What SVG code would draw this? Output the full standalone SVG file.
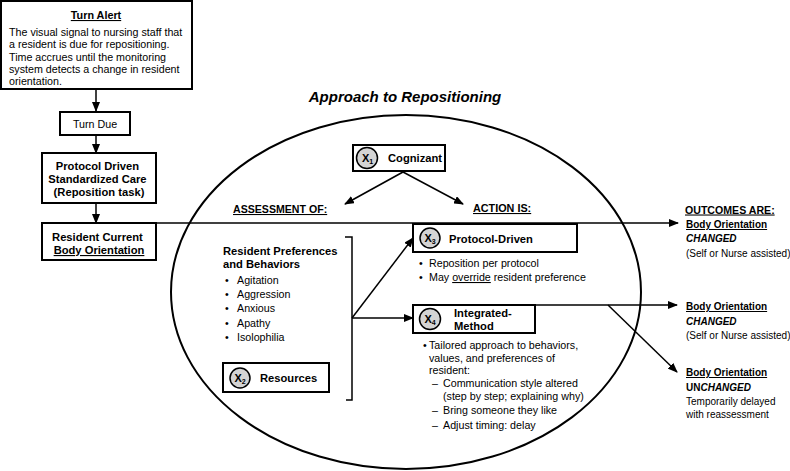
<svg xmlns="http://www.w3.org/2000/svg" width="790" height="471" viewBox="0 0 790 471">
<defs>
<marker id="ah" markerUnits="userSpaceOnUse" markerWidth="10" markerHeight="8" refX="9" refY="4" orient="auto">
<path d="M0,0 L10,4 L0,8 Z" fill="#000"/>
</marker>
<style>
text{font-family:"Liberation Sans",Arial,sans-serif;fill:#000}
.box{fill:#fff;stroke:#000;stroke-width:2}
.b{font-weight:bold}
.t{font-size:10.7px}
.tb{font-size:11.2px;font-weight:bold}
.o{font-size:10px}
.u{text-decoration:underline}
.con{stroke:#000;stroke-width:1.5;fill:none}
.badge{fill:#d4d4d4;stroke:#000;stroke-width:1.5}
.x{font-size:11px;font-weight:bold}
.sub{font-size:7px;font-weight:bold}
</style>
</defs>
<rect width="790" height="471" fill="#fff"/>

<text x="405" y="102" text-anchor="middle" font-size="15" font-weight="bold" font-style="italic">Approach to Repositioning</text>
<ellipse cx="406" cy="292" rx="235" ry="177" fill="none" stroke="#000" stroke-width="2"/>

<g id="connectors">
<line class="con" x1="96" y1="89" x2="96" y2="111" marker-end="url(#ah)"/>
<line class="con" x1="96" y1="135" x2="96" y2="153" marker-end="url(#ah)"/>
<line class="con" x1="96" y1="203" x2="96" y2="223" marker-end="url(#ah)"/>
<line class="con" x1="156" y1="223" x2="678" y2="223" marker-end="url(#ah)"/>
<line class="con" x1="403" y1="172" x2="345" y2="204" marker-end="url(#ah)"/>
<line class="con" x1="403" y1="172" x2="463" y2="204" marker-end="url(#ah)"/>
<path class="con" d="M345,237 H352 V400 H346"/>
<line class="con" x1="352" y1="318" x2="413" y2="238" marker-end="url(#ah)"/>
<line class="con" x1="352" y1="318" x2="413" y2="318" marker-end="url(#ah)"/>
<line class="con" x1="535" y1="305" x2="677" y2="305" marker-end="url(#ah)"/>
<line class="con" x1="608" y1="305" x2="677" y2="372" marker-end="url(#ah)"/>
</g>

<g id="turn-alert">
<rect class="box" x="1" y="1" width="191" height="88"/>
<text x="96" y="19" text-anchor="middle" class="b u" font-size="10.8">Turn Alert</text>
<text class="t" font-size="10.8">
<tspan x="9" y="36">The visual signal to nursing staff that</tspan>
<tspan x="9" y="48.3">a resident is due for repositioning.</tspan>
<tspan x="9" y="60.6">Time accrues until the monitoring</tspan>
<tspan x="9" y="72.9">system detects a change in resident</tspan>
<tspan x="9" y="85.2">orientation.</tspan>
</text>
</g>

<g id="turn-due">
<rect class="box" x="60" y="112" width="70" height="23"/>
<text x="95" y="127.5" text-anchor="middle" class="t">Turn Due</text>
</g>

<g id="protocol-driven-care">
<rect class="box" x="42" y="153" width="114" height="50"/>
<text class="tb" text-anchor="middle">
<tspan x="99" y="170">Protocol Driven</tspan>
<tspan x="99" y="183">Standardized Care</tspan>
<tspan x="99" y="196">(Reposition task)</tspan>
</text>
</g>

<g id="resident-current">
<rect class="box" x="42" y="223" width="114" height="37"/>
<text class="tb" text-anchor="middle">
<tspan x="99" y="241">Resident Current</tspan>
<tspan x="99" y="254" class="u">Body Orientation</tspan>
</text>
</g>

<g id="cognizant">
<rect class="box" x="353" y="145" width="92" height="26"/>
<circle class="badge" cx="367" cy="158" r="10.5"/>
<text x="362" y="162" class="x">X<tspan class="sub" dy="2">1</tspan></text>
<text x="388" y="162" class="tb">Cognizant</text>
</g>

<text x="233" y="213" class="u" font-weight="bold" font-size="10.6">ASSESSMENT OF:</text>
<text x="473" y="212" class="u" font-weight="bold" font-size="10.8">ACTION IS:</text>

<g id="resident-preferences">
<text class="tb">
<tspan x="223" y="255">Resident Preferences</tspan>
<tspan x="223" y="268">and Behaviors</tspan>
</text>
<text class="t">
<tspan x="225" y="284">•</tspan><tspan x="237" y="284">Agitation</tspan>
<tspan x="225" y="298.2">•</tspan><tspan x="237" y="298.2">Aggression</tspan>
<tspan x="225" y="312.4">•</tspan><tspan x="237" y="312.4">Anxious</tspan>
<tspan x="225" y="326.6">•</tspan><tspan x="237" y="326.6">Apathy</tspan>
<tspan x="225" y="340.8">•</tspan><tspan x="237" y="340.8">Isolophilia</tspan>
</text>
</g>

<g id="resources">
<rect class="box" x="223" y="363" width="106" height="29"/>
<circle class="badge" cx="240" cy="378" r="10"/>
<text x="234.5" y="382" class="x">X<tspan class="sub" dy="2">2</tspan></text>
<text x="260" y="382" class="tb">Resources</text>
</g>

<g id="protocol-driven">
<rect class="box" x="413" y="224" width="164" height="28"/>
<circle class="badge" cx="430" cy="238" r="10"/>
<text x="424.5" y="242" class="x">X<tspan class="sub" dy="2">3</tspan></text>
<text x="449" y="243" class="tb">Protocol-Driven</text>
<text class="t">
<tspan x="419" y="267">•</tspan><tspan x="429" y="267">Reposition per protocol</tspan>
<tspan x="419" y="281">•</tspan><tspan x="429" y="281">May </tspan><tspan class="u">override</tspan><tspan> resident preference</tspan>
</text>
</g>

<g id="integrated-method">
<rect class="box" x="413" y="305" width="122" height="28"/>
<circle class="badge" cx="430" cy="319" r="10.5"/>
<text x="424.5" y="323" class="x">X<tspan class="sub" dy="2">4</tspan></text>
<text class="tb">
<tspan x="454" y="317">Integrated-</tspan>
<tspan x="454" y="330">Method</tspan>
</text>
<text class="t">
<tspan x="423" y="349">•</tspan><tspan x="429" y="349">Tailored approach to behaviors,</tspan>
<tspan x="429" y="362">values, and preferences of</tspan>
<tspan x="429" y="374">resident:</tspan>
<tspan x="432" y="387">–</tspan><tspan x="443" y="387">Communication style altered</tspan>
<tspan x="443" y="400">(step by step; explaining why)</tspan>
<tspan x="432" y="414">–</tspan><tspan x="443" y="414">Bring someone they like</tspan>
<tspan x="432" y="428.5">–</tspan><tspan x="443" y="428.5">Adjust timing: delay</tspan>
</text>
</g>

<g id="outcomes">
<text x="685" y="213.5" class="b u" font-size="10.6">OUTCOMES ARE:</text>
<text x="686" y="228" class="o b u">Body Orientation</text>
<text x="686" y="242" class="o b" font-style="italic">CHANGED</text>
<text x="686" y="257" class="o">(Self or Nurse assisted)</text>
</g>

<g id="outcome-changed">
<text x="686" y="310" class="o b u">Body Orientation</text>
<text x="686" y="325" class="o b" font-style="italic">CHANGED</text>
<text x="686" y="339" class="o">(Self or Nurse assisted)</text>
</g>

<g id="outcome-unchanged">
<text x="686" y="376" class="o b u">Body Orientation</text>
<text x="686" y="391" class="o b">UN<tspan font-style="italic">CHANGED</tspan></text>
<text x="686" y="405" class="o">Temporarily delayed</text>
<text x="686" y="417.5" class="o">with reassessment</text>
</g>
</svg>
